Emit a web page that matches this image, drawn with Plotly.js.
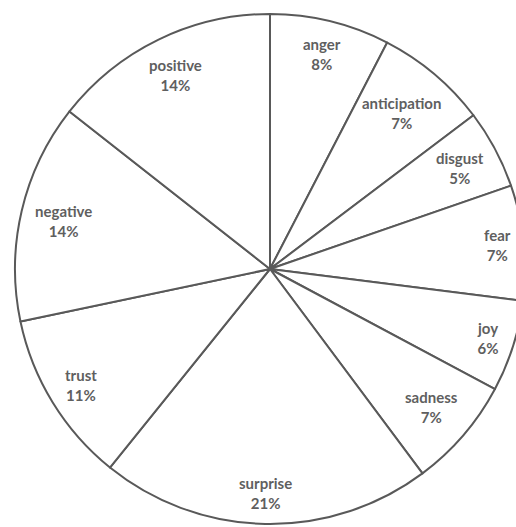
<!DOCTYPE html>
<html>
<head>
<meta charset="utf-8">
<script src="https://cdn.plot.ly/plotly-3.0.1.min.js"></script>
<style>
html, body { margin: 0; padding: 0; overflow: hidden; background: #fff; }
#chart { width: 530px; height: 527px; }
</style>
</head>
<body>
<div id="chart"></div>
<script>
// Data (share of each emotion, in percent)
const labels = ['anger', 'anticipation', 'disgust', 'fear', 'joy', 'sadness', 'surprise', 'trust', 'negative', 'positive'];
const values = [7.6, 7.1, 5.0, 7.3, 5.8, 7.0, 21.0, 10.9, 13.9, 14.4];

const W = 530, H = 527;
const margin = { l: 15, r: 5, t: 14, b: 3, pad: 0 };
const plotW = W - margin.l - margin.r;
const plotH = H - margin.t - margin.b;
const R = Math.min(plotW, plotH) / 2;

const fontFamily = 'Lato, "Open Sans", sans-serif';
const fontSize = 15;
const lineH = fontSize * 1.3;

const canvas = document.createElement('canvas');
const ctx = canvas.getContext('2d');
ctx.font = 'bold ' + fontSize + 'px Lato';

const total = values.reduce((a, b) => a + b, 0);
let cum = 0;
const annotations = labels.map((lab, i) => {
  const v = values[i];
  const mid = (cum + v / 2) / total * 2 * Math.PI;
  cum += v;
  const pct = Math.round(v / total * 100) + '%';
  const w = Math.max(ctx.measureText(lab).width, ctx.measureText(pct).width);
  const h = lineH * 2;
  const ux = Math.sin(mid), uy = -Math.cos(mid);
  // place the label box near the rim ("inside end")
  const target = R - 10;
  let lo = 0, hi = R;
  for (let k = 0; k < 40; k++) {
    const d = (lo + hi) / 2;
    const cx = Math.abs(d * ux) + w / 2, cy = Math.abs(d * uy) + h / 2;
    if (Math.hypot(cx, cy) > target) hi = d; else lo = d;
  }
  const d = lo;
  return {
    text: lab + '<br>' + pct,
    x: 0.5 + d * ux / plotW,
    y: 0.5 - d * uy / plotH,
    xref: 'paper', yref: 'paper',
    showarrow: false,
    xanchor: 'center', yanchor: 'middle',
    font: { family: fontFamily, size: fontSize, color: '#5f5f5f', weight: 'bold' }
  };
});

const trace = {
  type: 'pie',
  labels: labels,
  values: values,
  sort: false,
  direction: 'clockwise',
  rotation: 0,
  textinfo: 'none',
  hoverinfo: 'skip',
  showlegend: false,
  marker: {
    colors: labels.map(() => '#ffffff'),
    line: { color: '#595959', width: 2 }
  }
};

const layout = {
  width: W, height: H,
  margin: margin,
  paper_bgcolor: '#ffffff',
  plot_bgcolor: '#ffffff',
  showlegend: false,
  annotations: annotations
};

Plotly.newPlot('chart', [trace], layout, { displayModeBar: false, staticPlot: true });
</script>
</body>
</html>
